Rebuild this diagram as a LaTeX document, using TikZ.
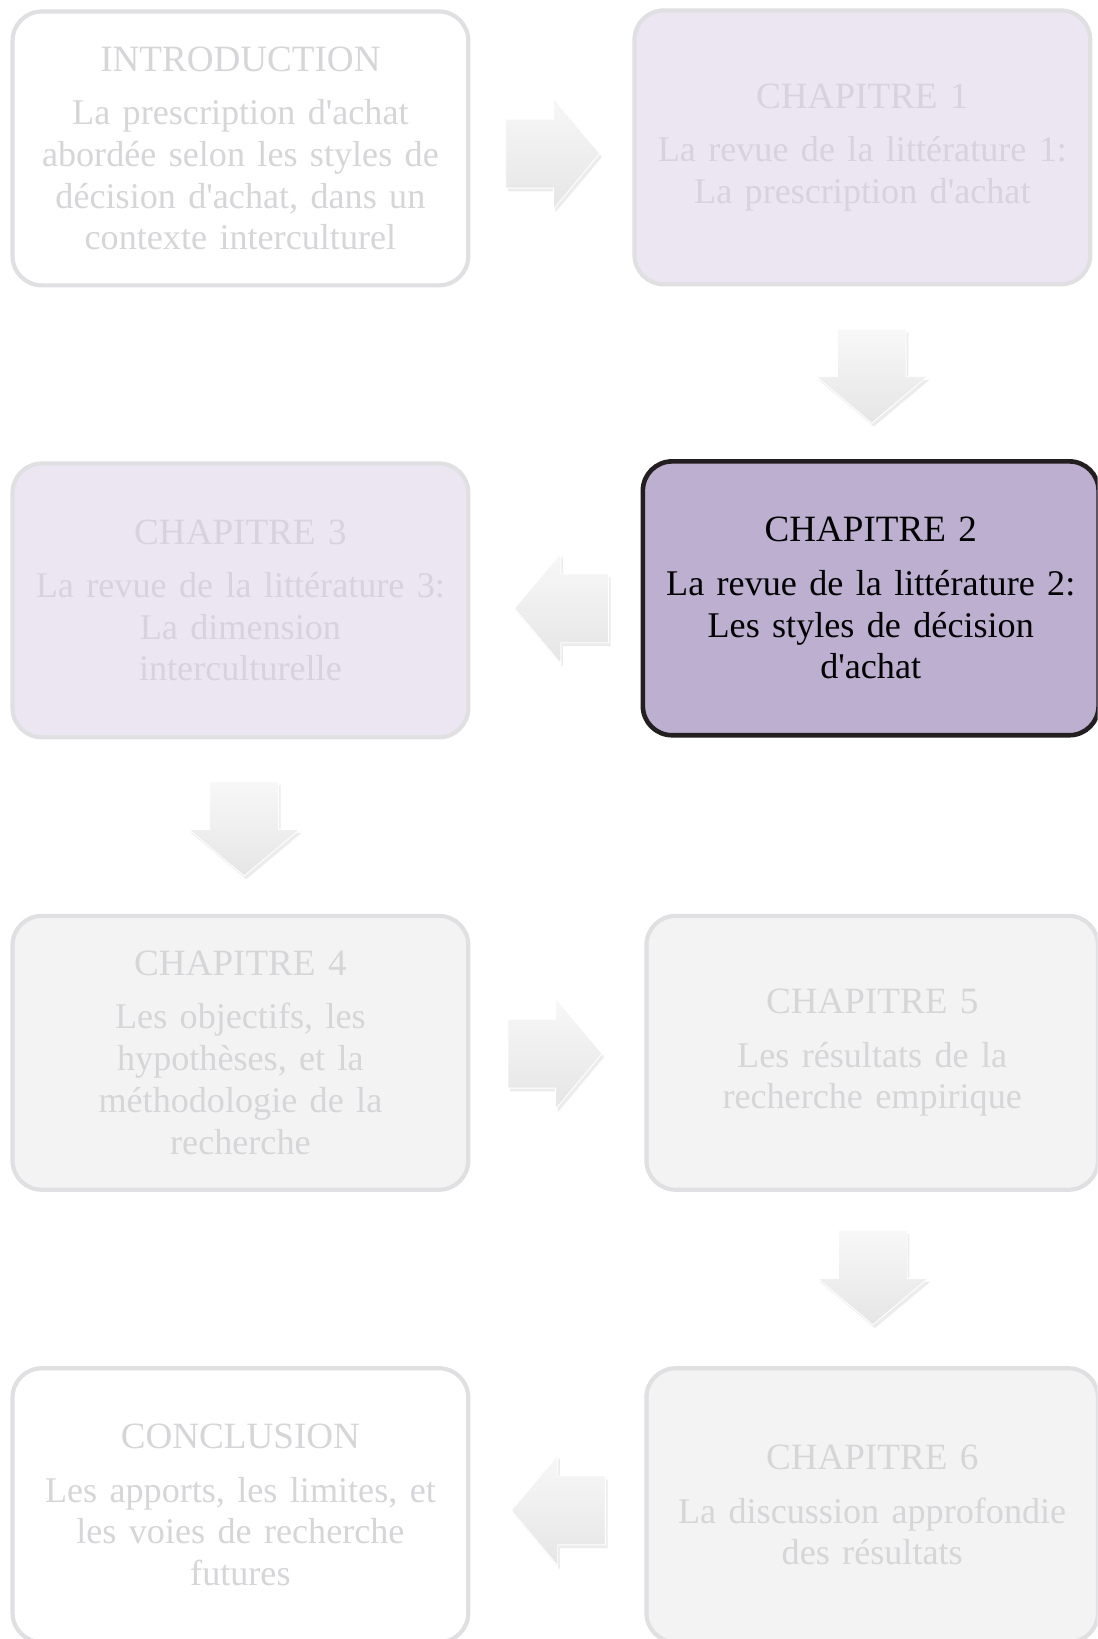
\documentclass[tikz,border=0pt]{standalone}
\usepackage{fontspec}
\setmainfont{Liberation Serif}
\usetikzlibrary{shapes.arrows,shadows}
\newcommand{\apo}{\textquotesingle}
\newcommand{\bodyfont}{\fontsize{24.6}{28.45}\selectfont}
\definecolor{fadeline}{RGB}{224,224,227}
\definecolor{fadetext}{RGB}{214,214,217}
\definecolor{lavfill}{RGB}{235,230,241}
\definecolor{lavtext}{RGB}{215,210,223}
\definecolor{greyfill}{RGB}{243,243,243}
\definecolor{currfill}{RGB}{188,175,208}
\definecolor{currline}{RGB}{35,31,32}
\tikzset{>=latex}
\tikzstyle{chap}=[rectangle,rounded corners=0.7cm,line width=0.1cm,minimum width=10.9cm,minimum height=6.55cm,text width=10.4cm,align=center,inner sep=0pt,font=\fontsize{25.25}{28.45}\selectfont]
\tikzstyle{plain}=[chap,draw=fadeline,fill=white,text=fadetext]
\tikzstyle{lav}=[chap,draw=fadeline,fill=lavfill,text=lavtext]
\tikzstyle{grey}=[chap,draw=fadeline,fill=greyfill,text=fadetext]
\tikzstyle{current}=[chap,draw=currline,fill=currfill,text=black,line width=0.11cm]
\tikzstyle{blockarrow}=[single arrow,draw=white,line width=0.6pt,inner xsep=0pt,inner ysep=0.8125cm,minimum width=2.625cm,minimum height=2.25cm,single arrow head extend=0.5cm,single arrow tip angle=100,top color=gray!6,bottom color=gray!20,drop shadow={shadow xshift=0.5mm,shadow yshift=-0.8mm,opacity=0.15}]
\tikzstyle{downarrow}=[blockarrow,shape border rotate=270,inner xsep=0.8125cm,inner ysep=0pt]

\begin{document}
\begin{tikzpicture}[inner sep=1mm]
\def \colL {5.75};
\def \colR {20.86};
\def \hgap {0.275cm};

\clip (0,0) rectangle (26.25,-39.2);
\fill[white] (0,0) rectangle (26.25,-39.2);

\node[plain] (intro) at (\colL, -3.55)
	{INTRODUCTION\\[\hgap]\bodyfont La prescription d\apo achat\\ abordée selon les styles de\\ décision d\apo achat, dans un\\ contexte interculturel};
\node[lav] (ch1) at (20.625, -3.525)
	{CHAPITRE 1\\[\hgap]\bodyfont La revue de la littérature 1:\\ La prescription d\apo achat};
\node[current] (ch2) at (20.825, -14.31)
	{CHAPITRE 2\\[\hgap]\bodyfont La revue de la littérature 2:\\ Les styles de décision\\ d\apo achat};
\node[lav] (ch3) at (\colL, -14.36)
	{CHAPITRE 3\\[\hgap]\bodyfont La revue de la littérature 3:\\ La dimension\\ interculturelle};
\node[grey] (ch4) at (\colL, -25.18)
	{CHAPITRE 4\\[\hgap]\bodyfont Les objectifs, les\\ hypothèses, et la\\ méthodologie de la\\ recherche};
\node[grey,minimum width=10.8cm] (ch5) at (\colR, -25.18)
	{CHAPITRE 5\\[\hgap]\bodyfont Les résultats de la\\ recherche empirique};
\node[grey,minimum width=10.8cm] (ch6) at (\colR, -36.0)
	{CHAPITRE 6\\[\hgap]\bodyfont La discussion approfondie\\ des résultats};
\node[plain] (concl) at (\colL, -36.0)
	{CONCLUSION\\[\hgap]\bodyfont Les apports, les limites, et\\ les voies de recherche\\ futures};

% block arrows between the boxes
\node[blockarrow] (arr1) at (12.875, -3.675) {};
\node[downarrow] (arr2) at (20.85, -8.65) {};
\node[blockarrow,shape border rotate=180] (arr3) at (13.775, -14.55) {};
\node[downarrow] (arr4) at (5.84, -19.48) {};
\node[blockarrow] (arr5) at (12.93, -25.2) {};
\node[downarrow] (arr6) at (20.875, -30.215) {};
\node[blockarrow,shape border rotate=180] (arr7) at (13.7, -36.125) {};

\end{tikzpicture}
\end{document}
